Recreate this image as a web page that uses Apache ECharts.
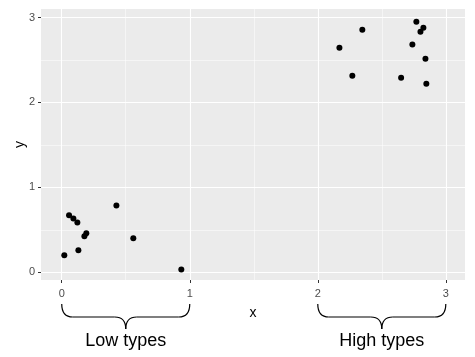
<!DOCTYPE html>
<html><head><meta charset="utf-8">
<script src="https://cdn.jsdelivr.net/npm/echarts@6/dist/echarts.min.js"></script>
<style>html,body{margin:0;padding:0;background:#fff}#c{width:475px;height:357px}</style>
</head><body><div id="c"></div>
<script>
const lowX = [0.427, 0.057, 0.091, 0.122, 0.192, 0.177, 0.559, 0.130, 0.020, 0.934];
const lowY = [0.788, 0.671, 0.635, 0.588, 0.459, 0.424, 0.400, 0.259, 0.200, 0.035];
const highX = [2.348, 2.169, 2.270, 2.770, 2.825, 2.802, 2.739, 2.841, 2.651, 2.848];
const highY = [2.855, 2.644, 2.314, 2.949, 2.879, 2.832, 2.682, 2.514, 2.291, 2.220];
const majorTicks = [0, 1, 2, 3];
const minorTicks = [0.5, 1.5, 2.5];
const groups = [
  {label: 'Low types', from: 0, to: 1},
  {label: 'High types', from: 2, to: 3}
];

const font = '"Liberation Sans", Arial, sans-serif';
const chart = echarts.init(document.getElementById('c'), null, {renderer: 'canvas'});

function mkAxis(isX, ticks, major) {
  const ax = {
    type: 'value',
    min: isX ? -0.162 : -0.09,
    max: isX ? 3.15 : 3.1,
    position: isX ? 'bottom' : 'left',
    axisLine: {show: false, onZero: false},
    axisTick: {show: major, customValues: ticks, length: 3, lineStyle: {color: '#333333', width: 1}},
    axisLabel: {show: major, customValues: ticks, color: '#4D4D4D', fontSize: 11, fontFamily: font, margin: isX ? 8 : 6},
    splitLine: {show: true, lineStyle: {color: '#FFFFFF', width: major ? 1.1 : 0.5}},
    minorSplitLine: {show: false}
  };
  if (major) {
    ax.name = isX ? 'x' : 'y';
    ax.nameLocation = 'middle';
    ax.nameMoveOverlap = false;
    ax.nameGap = isX ? 26 : 14;
    ax.nameTextStyle = {color: '#000', fontSize: 14, fontFamily: font};
  }
  return ax;
}

chart.setOption({
  animation: false,
  grid: {left: 41, right: 10, top: 9, bottom: 77, show: true, backgroundColor: '#EBEBEB', borderWidth: 0,
         containLabel: false, outerBoundsMode: 'none'},
  xAxis: [mkAxis(true, majorTicks, true), mkAxis(true, minorTicks, false)],
  yAxis: [mkAxis(false, majorTicks, true), mkAxis(false, minorTicks, false)],
  series: [
    {type: 'scatter', xAxisIndex: 0, yAxisIndex: 0, symbolSize: 6, itemStyle: {color: '#000', opacity: 1},
     data: lowX.map((x, i) => [x, lowY[i]]), emphasis: {disabled: true}, silent: true},
    {type: 'scatter', xAxisIndex: 0, yAxisIndex: 0, symbolSize: 6, itemStyle: {color: '#000', opacity: 1},
     data: highX.map((x, i) => [x, highY[i]]), emphasis: {disabled: true}, silent: true}
  ]
});

// braces under the axis, positioned from axis scale
const bottomPx = chart.convertToPixel({xAxisIndex: 0, yAxisIndex: 0}, [0, -0.09])[1];
const yTop = bottomPx + 24, yMid = bottomPx + 37, yTip = bottomPx + 49, yText = bottomPx + 61;
const graphics = [];
const lineStyle = {fill: null, stroke: '#000', lineWidth: 1.2};
function curve(xa, ya, xb, yb, cx, cy) {
  graphics.push({type: 'bezierCurve', shape: {x1: xa, y1: ya, x2: xb, y2: yb, cpx1: cx, cpy1: cy}, style: lineStyle, silent: true});
}
function seg(xa, ya, xb, yb) {
  graphics.push({type: 'line', shape: {x1: xa, y1: ya, x2: xb, y2: yb}, style: lineStyle, silent: true});
}
groups.forEach(g => {
  const x0 = chart.convertToPixel({xAxisIndex: 0}, g.from);
  const x1 = chart.convertToPixel({xAxisIndex: 0}, g.to);
  const xm = (x0 + x1) / 2;
  const r = 11;
  curve(x0, yTop, x0 + r, yMid, x0, yMid);
  seg(x0 + r, yMid, xm - r, yMid);
  curve(xm - r, yMid, xm, yTip, xm, yMid);
  curve(xm, yTip, xm + r, yMid, xm, yMid);
  seg(xm + r, yMid, x1 - r, yMid);
  curve(x1 - r, yMid, x1, yTop, x1, yMid);
  graphics.push({type: 'text', x: xm, y: yText, style: {text: g.label, fill: '#000', font: '18px ' + font, textAlign: 'center', textVerticalAlign: 'middle'}, silent: true});
});
chart.setOption({graphic: graphics});
</script></body></html>
